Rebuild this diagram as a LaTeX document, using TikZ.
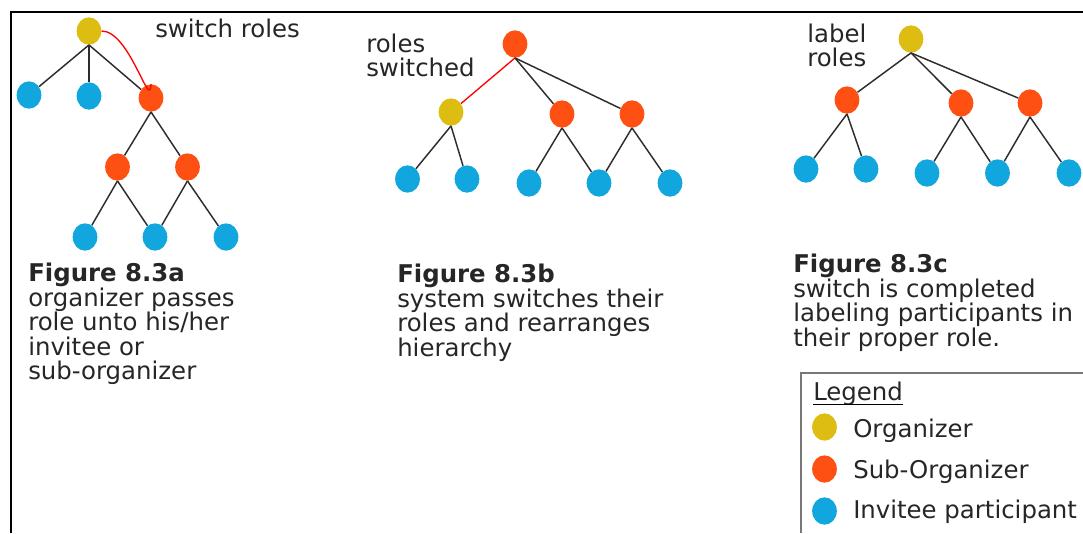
\documentclass[tikz,border=0pt]{standalone}
\usepackage{fontspec}
\setmainfont{DejaVu Sans}
\usetikzlibrary{shapes.geometric}

\definecolor{orgYellow}{RGB}{222,189,18}
\definecolor{subOrange}{RGB}{255,80,20}
\definecolor{invBlue}{RGB}{18,166,222}
\definecolor{edgeGray}{RGB}{45,45,45}

\tikzset{
  member/.style={ellipse, minimum width=18.5pt, minimum height=20.5pt, inner sep=0pt},
  organizer/.style={member, fill=orgYellow},
  suborg/.style={member, fill=subOrange},
  invitee/.style={member, fill=invBlue},
  link/.style={draw=edgeGray, line width=1.1pt},
  swap/.style={draw=red, line width=1pt},
  caption/.style={anchor=base west, align=left, inner sep=0pt, text=black!85, font=\fontsize{18.3}{18.4}\selectfont},
}

\begin{document}
\begin{tikzpicture}[x=0.75pt,y=0.75pt,yscale=-1,xscale=1]
\useasboundingbox (0,0) rectangle (1083,533);
%Shape: Frame
\draw [line width=1.5pt] (10.5,533) -- (10.5,12) -- (1083,12) ;

% Tree a
\node [organizer] (a0) at (89,31) {};
\node [invitee] (a1) at (29,95) {};
\node [invitee] (a2) at (89,96) {};
\node [suborg] (a3) at (151,98) {};
\node [suborg] (a4) at (117.5,167) {};
\node [suborg] (a5) at (187.5,167) {};
\node [invitee] (a6) at (85,237) {};
\node [invitee] (a7) at (155,237) {};
\node [invitee] (a8) at (226,237) {};
\draw [link] (a0.south) -- (a1) ;
\draw [link] (a0.south) -- (a2) ;
\draw [link] (a0.south) -- (a3) ;
\draw [link] (a3.south) -- (a4) ;
\draw [link] (a3.south) -- (a5) ;
\draw [link] (a4.south) -- (a6) ;
\draw [link] (a4.south) -- (a7) ;
\draw [link] (a5.south) -- (a7) ;
\draw [link] (a5.south) -- (a8) ;
\draw [swap] (a0.east) to [out=0,in=92] (a3.north) ;
% Text Node
\node [caption] (swtxt) at (155,37) {switch roles};

% Tree b
\node [suborg] (b0) at (515,44) {};
\node [organizer] (b1) at (451,112) {};
\node [suborg] (b2) at (562,114) {};
\node [suborg] (b3) at (632,114) {};
\node [invitee] (b4) at (407.5,179) {};
\node [invitee] (b5) at (467,179) {};
\node [invitee] (b6) at (529,183) {};
\node [invitee] (b7) at (599,183) {};
\node [invitee] (b8) at (670,183) {};
\draw [swap] (b0.south) -- (b1) ;
\draw [link] (b0.south) -- (b2) ;
\draw [link] (b0.south) -- (b3) ;
\draw [link] (b1.south) -- (b4) ;
\draw [link] (b1.south) -- (b5) ;
\draw [link] (b2.south) -- (b6) ;
\draw [link] (b2.south) -- (b7) ;
\draw [link] (b3.south) -- (b7) ;
\draw [link] (b3.south) -- (b8) ;
% Text Node
\node [caption] (sdtxt) at (366,76.7) {roles\\switched};

% Tree c
\node [organizer] (c0) at (911,39) {};
\node [suborg] (c1) at (847,100) {};
\node [suborg] (c2) at (961,103) {};
\node [suborg] (c3) at (1030,103) {};
\node [invitee] (c4) at (806,169) {};
\node [invitee] (c5) at (866,169) {};
\node [invitee] (c6) at (927,173) {};
\node [invitee] (c7) at (997.5,173) {};
\node [invitee] (c8) at (1069,173) {};
\draw [link] (c0.south) -- (c1) ;
\draw [link] (c0.south) -- (c2) ;
\draw [link] (c0.south) -- (c3) ;
\draw [link] (c1.south) -- (c4) ;
\draw [link] (c1.south) -- (c5) ;
\draw [link] (c2.south) -- (c6) ;
\draw [link] (c2.south) -- (c7) ;
\draw [link] (c3.south) -- (c7) ;
\draw [link] (c3.south) -- (c8) ;
% Text Node
\node [caption] (lbtxt) at (807,66.7) {label\\roles};

% Captions (anchored at the baseline of their last line)
\node [caption] (capa) at (28,379.6) {\textbf{Figure 8.3a}\\organizer passes\\role unto his/her\\invitee or\\sub-organizer};
\node [caption] (capb) at (397,356.2) {\textbf{Figure 8.3b}\\system switches their\\roles and rearranges\\hierarchy};
\node [caption] (capc) at (793,346.2) {\textbf{Figure 8.3c}\\switch is completed\\labeling participants in\\their proper role.};

%Shape: Legend box
\draw [draw={rgb, 255:red, 120; green, 120; blue, 120}, line width=0.8pt] (801,533) -- (801,373) -- (1090,373) ;
\node [caption] (leg) at (813,400) {Legend};
\draw [line width=0.8pt] ([yshift=3.4pt]leg.base west) -- ([yshift=3.4pt]leg.base east) ;
\node [organizer] (k1) at (824.5,427) {};
\node [suborg] (k2) at (824.5,469) {};
\node [invitee] (k3) at (824.5,511) {};
\node [caption] (k1txt) at (853,437) {Organizer};
\node [caption] (k2txt) at (853,478) {Sub-Organizer};
\node [caption] (k3txt) at (853,518) {Invitee participant};
\end{tikzpicture}
\end{document}
